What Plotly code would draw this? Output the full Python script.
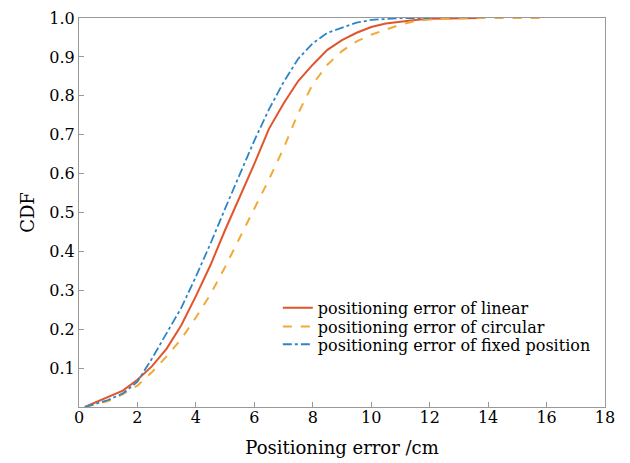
import plotly.graph_objects as go

# Positioning error (cm) and CDF values
x_linear = [0.2, 0.5, 1.0, 1.5, 2.0, 2.5, 3.0, 3.5, 4.0, 4.5, 5.0, 5.5, 6.0, 6.5, 7.0, 7.5, 8.0, 8.5, 9.0, 9.5, 10.0, 10.5, 11.0, 11.5, 12.0, 13.0, 13.8]
y_linear = [0.0, 0.01, 0.025, 0.042, 0.07, 0.105, 0.15, 0.21, 0.285, 0.365, 0.455, 0.54, 0.625, 0.715, 0.78, 0.838, 0.88, 0.918, 0.943, 0.962, 0.977, 0.986, 0.991, 0.995, 0.998, 1.0, 1.0]

x_circular = [0.2, 0.5, 1.0, 1.5, 2.0, 2.5, 3.0, 3.5, 4.0, 4.5, 5.0, 5.5, 6.0, 6.5, 7.0, 7.5, 8.0, 8.5, 9.0, 9.5, 10.0, 10.5, 11.0, 11.5, 12.0, 13.0, 13.5, 16.0]
y_circular = [0.0, 0.005, 0.015, 0.033, 0.055, 0.09, 0.13, 0.175, 0.23, 0.29, 0.36, 0.435, 0.51, 0.585, 0.665, 0.755, 0.83, 0.88, 0.915, 0.94, 0.957, 0.971, 0.983, 0.992, 0.996, 0.999, 1.0, 1.0]

x_fixed = [0.2, 0.5, 1.0, 1.5, 2.0, 2.5, 3.0, 3.5, 4.0, 4.5, 5.0, 5.5, 6.0, 6.5, 7.0, 7.5, 8.0, 8.5, 9.0, 9.5, 10.0, 10.5, 11.0, 12.0]
y_fixed = [0.0, 0.007, 0.018, 0.035, 0.065, 0.125, 0.19, 0.255, 0.335, 0.42, 0.51, 0.60, 0.685, 0.765, 0.835, 0.895, 0.935, 0.962, 0.976, 0.988, 0.995, 0.998, 1.0, 1.0]

x_ticks = [0, 2, 4, 6, 8, 10, 12, 14, 16, 18]
y_ticks = [0.1, 0.2, 0.3, 0.4, 0.5, 0.6, 0.7, 0.8, 0.9, 1.0]
y_tick_labels = ["0.1", "0.2", "0.3", "0.4", "0.5", "0.6", "0.7", "0.8", "0.9", "1.0"]

FONT = "DejaVu Serif"

fig = go.Figure()
fig.add_trace(go.Scatter(x=x_linear, y=y_linear, mode="lines",
                         name="positioning error of linear", legend="legend",
                         line=dict(color="#E0552C", width=2)))
fig.add_trace(go.Scatter(x=x_circular, y=y_circular, mode="lines",
                         name="positioning error of circular", legend="legend2",
                         line=dict(color="#F0AA38", width=2, dash="dash")))
fig.add_trace(go.Scatter(x=x_fixed, y=y_fixed, mode="lines",
                         name="positioning error of fixed position", legend="legend3",
                         line=dict(color="#2C85C8", width=1.8, dash="dashdot")))


def leg(yc):
    return dict(x=0.378, y=yc, xanchor="left", yanchor="middle",
                bgcolor="rgba(0,0,0,0)", font=dict(family=FONT, size=16),
                itemwidth=30)


# page body has an 8px margin, so the figure is drawn 8px in from the top-left
fig.update_layout(
    width=622, height=455,
    margin=dict(l=71, r=25, t=10, b=56, autoexpand=False),
    paper_bgcolor="white", plot_bgcolor="white",
    font=dict(family=FONT, size=16, color="black"),
    showlegend=True,
    legend=leg(0.255),
    legend2=leg(0.207),
    legend3=leg(0.161),
    xaxis=dict(range=[0, 18], tickvals=x_ticks, ticks="inside", ticklen=5,
               tickcolor="#999999", showline=True, linecolor="#999999",
               mirror=True, showgrid=False, zeroline=False, automargin=False,
               tickfont=dict(family=FONT, size=16), ticklabelstandoff=-4,
               ticklabeloverflow="allow",
               title=dict(text="Positioning error /cm", standoff=15,
                          font=dict(family=FONT, size=18))),
    yaxis=dict(range=[0, 1], tickvals=y_ticks, ticktext=y_tick_labels,
               ticks="inside", ticklen=5, tickcolor="#999999", showline=True,
               linecolor="#999999", mirror=True, showgrid=False, zeroline=False,
               automargin=False, tickfont=dict(family=FONT, size=16),
               ticklabeloverflow="allow",
               title=dict(text="CDF", standoff=10,
                          font=dict(family=FONT, size=18))),
)

fig.write_html("out.html")
